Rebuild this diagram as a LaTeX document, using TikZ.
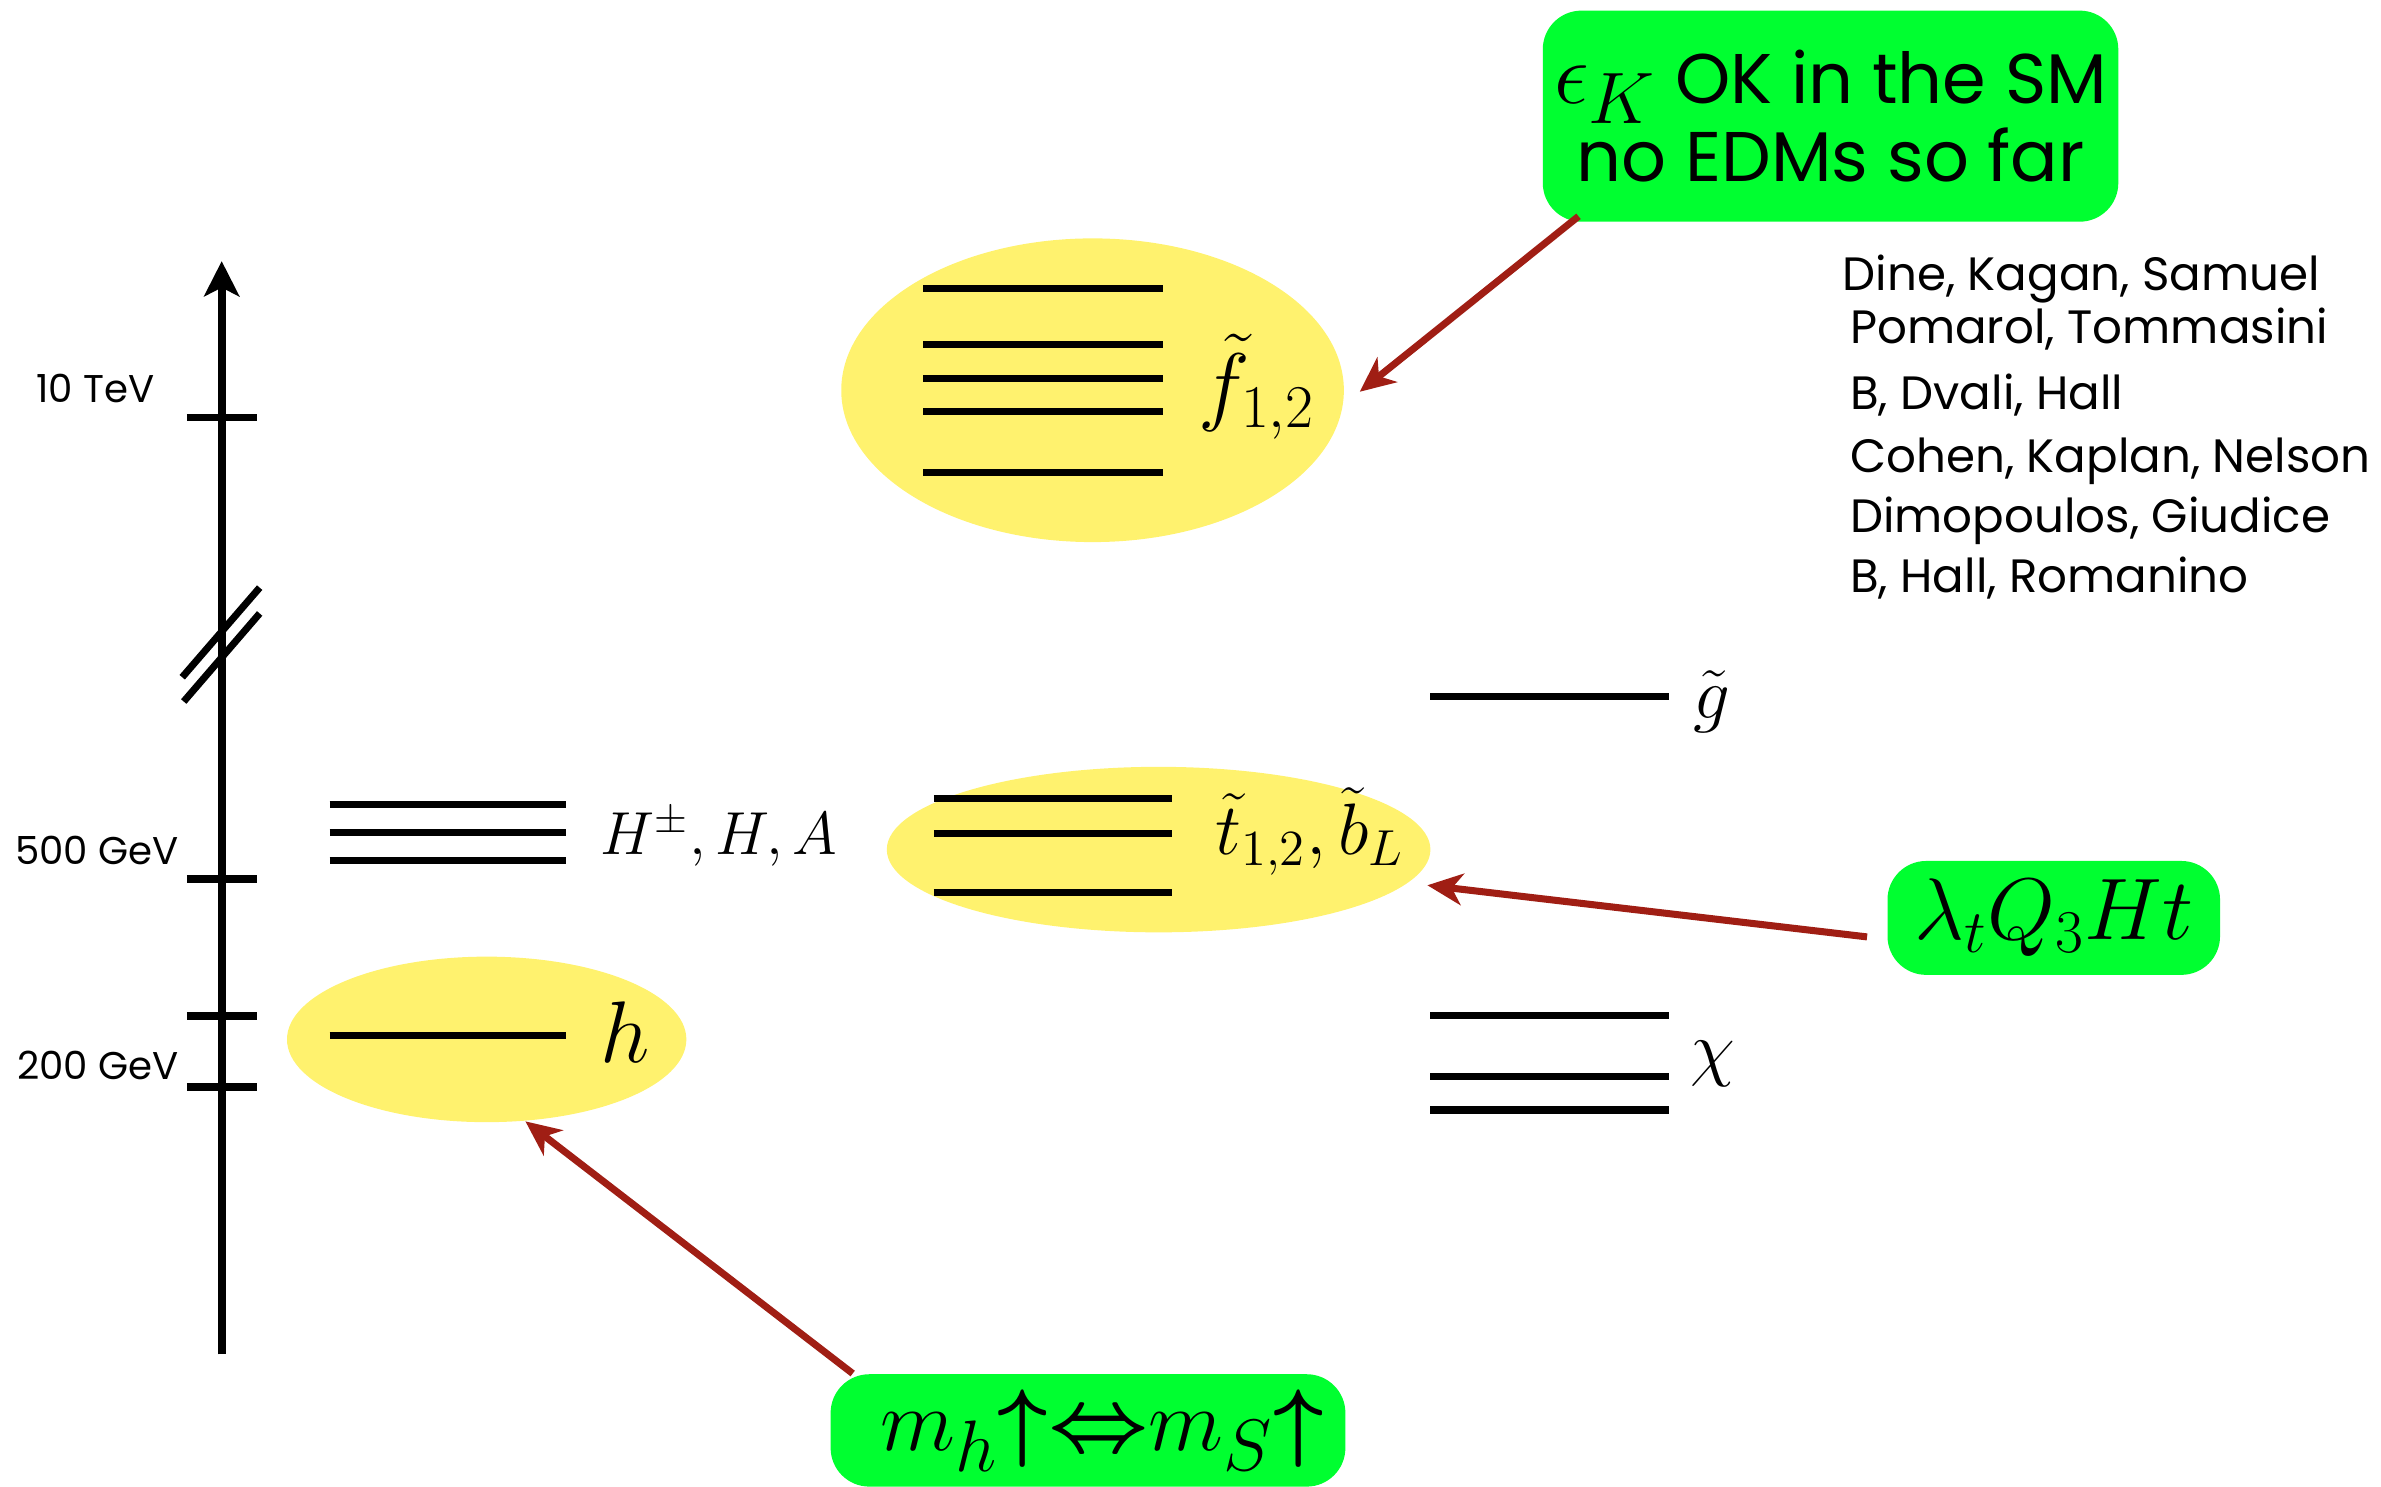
\documentclass[tikz,border=0pt]{standalone}
\usepackage{amsmath}
\usepackage{fontspec}
\usetikzlibrary{arrows.meta,shapes.geometric,calc}
\newfontfamily\handfont{Poppins}
\definecolor{boxgreen}{RGB}{0,255,48}
\definecolor{blobyellow}{RGB}{255,242,110}
\definecolor{arrowred}{RGB}{160,30,20}
\def\pxu{0.015185cm}
\tikzset{
  axisline/.style={line width=2.2pt},
  levelline/.style={line width=2pt},
  blob/.style={ellipse, fill=blobyellow, inner sep=0pt},
  greenbox/.style={rectangle, rounded corners=11pt, fill=boxgreen, inner sep=0pt, align=left},
  pointer/.style={line width=2pt, draw=arrowred, -{Stealth[length=10pt,width=9pt,inset=3pt]}},
  ticklabel/.style={anchor=base east, inner sep=0pt, font=\handfont\fontsize{11}{13}\selectfont},
  authorline/.style={anchor=base west, inner sep=0pt, font=\handfont\fontsize{13.3}{16}\selectfont},
  statelabel/.style={anchor=base west, inner sep=0pt}
}
\begin{document}
\begin{tikzpicture}[x=\pxu, y=-\pxu]
\useasboundingbox (0,0) rectangle (1568,979);

% energy axis with ticks and break mark
\coordinate (axbot) at (146,892);
\coordinate (axtop) at (146,172);
\draw[axisline, -{Stealth[length=10pt,width=10pt,inset=2.5pt]}] (axbot) -- (axtop);
\foreach \yy in {275,579,669,716} \draw[axisline] (123,\yy) -- (169,\yy);
\draw[line width=2pt] (120,446) -- (171,387);
\draw[line width=2pt] (121,462) -- (171,404);
\node[ticklabel] (tev10) at (102,265) {10 TeV};
\node[ticklabel] (gev500) at (118,569) {500 GeV};
\node[ticklabel] (gev200) at (118,711) {200 GeV};

% highlighted groups
\node[blob, minimum width=331*\pxu, minimum height=200*\pxu] (fblob) at (719.5,257) {};
\node[blob, minimum width=358*\pxu, minimum height=109*\pxu] (tblob) at (763,559.5) {};
\node[blob, minimum width=263*\pxu, minimum height=109*\pxu] (hblob) at (320.5,684.5) {};

% mass levels
\foreach \yy in {530,548,567} \draw[levelline] (217,\yy) -- (373,\yy);
\draw[levelline] (217,682) -- (373,682);
\foreach \yy in {190,227,249,271,311} \draw[levelline] (608,\yy) -- (766,\yy);
\foreach \yy in {526,549,588} \draw[levelline] (615,\yy) -- (772,\yy);
\draw[levelline] (942,459) -- (1099,459);
\foreach \yy in {669,709,731} \draw[levelline] (942,\yy) -- (1099,\yy);

% state labels
\node[statelabel, font=\fontsize{23}{28}\selectfont] (hlab) at (395,700) {$h$};
\node[statelabel, font=\fontsize{16.5}{20}\selectfont] (Hlab) at (395,563) {$H^\pm, H, A$};
\node[statelabel, font=\fontsize{25.5}{30}\selectfont] (flab) at (789,273) {$\tilde f_{1,2}$};
\node[statelabel, font=\fontsize{20}{24}\selectfont] (tlab) at (800,563) {$\tilde t_{1,2}, \tilde b_L$};
\node[statelabel, font=\fontsize{20}{24}\selectfont] (glab) at (1115,473) {$\tilde g$};
\node[statelabel, font=\fontsize{20}{24}\selectfont] (chilab) at (1113,706) {$\chi$};

% references
\node[authorline] (ref1) at (1213,191) {Dine, Kagan, Samuel};
\node[authorline] (ref2) at (1218,226) {Pomarol, Tommasini};
\node[authorline] (ref3) at (1218,270) {B, Dvali, Hall};
\node[authorline] (ref4) at (1218,311) {Cohen, Kaplan, Nelson};
\node[authorline] (ref5) at (1218,351) {Dimopoulos, Giudice};
\node[authorline] (ref6) at (1218,390) {B, Hall, Romanino};

% comment boxes
\node[greenbox, minimum width=379*\pxu, minimum height=139*\pxu,
      font=\handfont\fontsize{20}{22}\selectfont] (box1) at (1205.5,76.5)
  {{\fontsize{30}{30}\selectfont$\epsilon_K$} OK in the SM\\\hspace{6.5pt}no EDMs so far};
\node[greenbox, minimum width=219*\pxu, minimum height=75*\pxu,
      font=\fontsize{24}{28}\selectfont] (box2) at (1352.5,604.5) {$\lambda_t Q_3 H t$};
\node[greenbox, minimum width=339*\pxu, minimum height=74*\pxu,
      font=\fontsize{29}{32}\selectfont] (box3) at (716.5,942)
  {\hspace*{8pt}$m_h{\boldsymbol\uparrow}{\boldsymbol\Leftrightarrow} m_S{\boldsymbol\uparrow}$};

% pointers
\draw[pointer] ($(box1.south west)+(24,-4)$) -- ($(fblob.east)+(10,1)$);
\draw[pointer] ($(box2.west)+(-13,12.5)$) -- ($(tblob.center)+(177,23.5)$);
\draw[pointer] ($(box3.north west)+(15,0)$) -- ($(hblob.south)+(25.5,-1)$);
\end{tikzpicture}
\end{document}
